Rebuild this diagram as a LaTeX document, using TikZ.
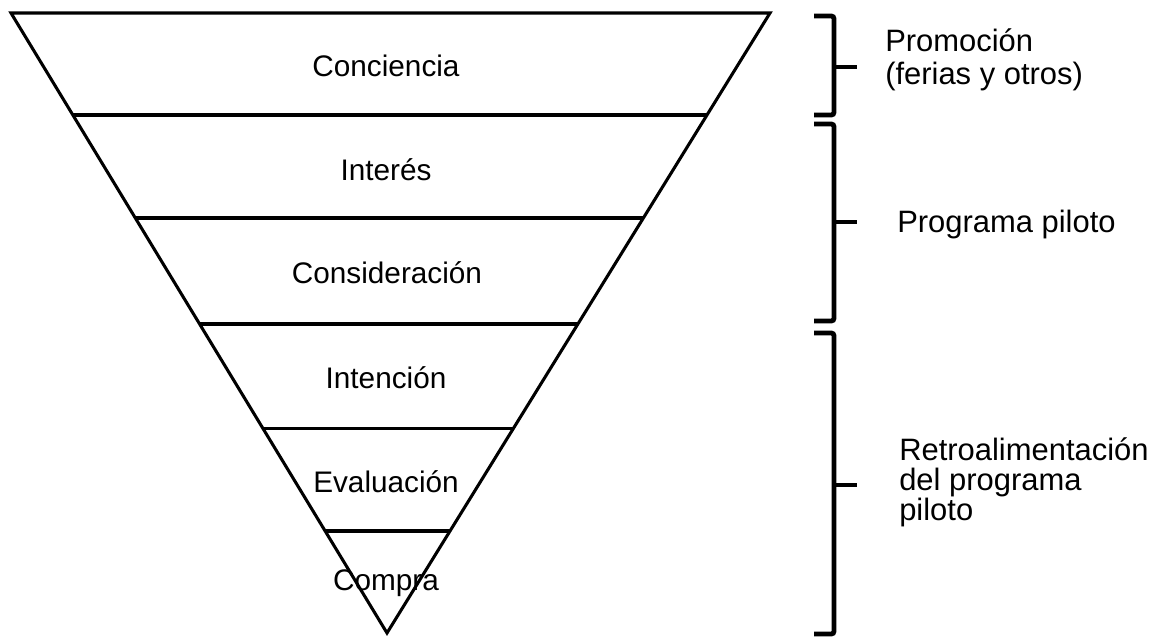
\documentclass[tikz,border=0pt]{standalone}
\usepackage{fontspec}
\setmainfont{Liberation Sans}
\usetikzlibrary{calc}

\begin{document}
\begin{tikzpicture}[
    x=0.75pt, y=-0.75pt,
    funnel/.style={draw, line width=2.3pt, line join=miter},
    bracket/.style={draw, line width=3.6pt, rounded corners=2pt},
    stage/.style={font=\fontsize{22.3}{26}\selectfont, inner sep=0pt},
    note/.style={font=\fontsize{23.2}{#1}\selectfont, align=left, anchor=west, inner sep=0pt},
    note/.default=22.5pt,
]
\useasboundingbox (0,0) rectangle (1150,636);

% funnel outline
\coordinate (tl) at (11,13);
\coordinate (tr) at (770,13);
\coordinate (apex) at (387,633);
\draw[funnel] (tl) -- (tr) -- (apex) -- cycle;
\foreach \t in {0.1645,0.3306,0.5016,0.6694,0.8355}
    \draw[funnel] ($(tl)!\t!(apex)$) -- ($(tr)!\t!(apex)$);

% stages
\node[stage] (conc) at (386,66) {Conciencia};
\node[stage] (inte) at (386,170) {Interés};
\node[stage] (cons) at (387,273) {Consideración};
\node[stage] (intc) at (386,378) {Intención};
\node[stage] (eval) at (386,482) {Evaluación};
\node[stage] (comp) at (386,583) {Compra};

% brackets
\draw[bracket] (814,16) -- (834,16) -- (834,115) -- (814,115);
\draw[bracket] (834,67) -- (857,67);
\draw[bracket] (814,124) -- (834,124) -- (834,321) -- (814,321);
\draw[bracket] (834,222) -- (857,222);
\draw[bracket] (814,333) -- (834,333) -- (834,634) -- (814,634);
\draw[bracket] (834,485) -- (857,485);

% notes
\node[note=24.75pt] (promo) at (885,60) {Promoción\\(ferias y otros)};
\node[note] (piloto) at (897,224) {Programa piloto};
\node[note] (retro) at (899,482) {Retroalimentación\\del programa\\piloto};
\end{tikzpicture}
\end{document}
